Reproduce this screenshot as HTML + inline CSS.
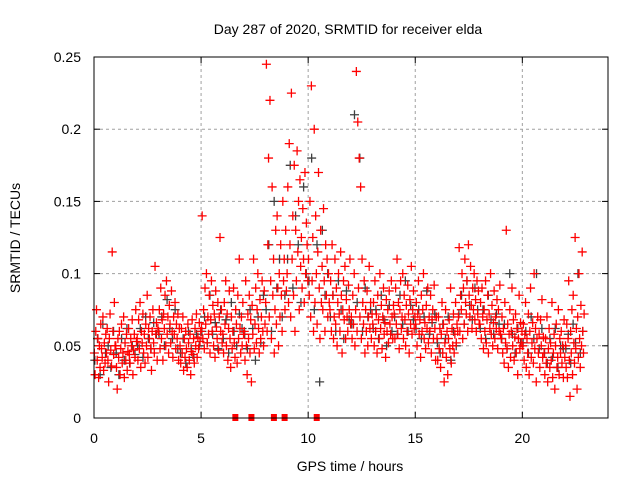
<!DOCTYPE html>
<html><head><meta charset="utf-8"><style>
body{margin:0;background:#fff}
svg text{font-family:"Liberation Sans",sans-serif;font-size:14px;fill:#000}
</style></head><body>
<svg id="chart" width="640" height="480">
<text x="348" y="34" text-anchor="middle">Day 287 of 2020, SRMTID for receiver elda</text>
<text x="350" y="471" text-anchor="middle">GPS time / hours</text>
<text transform="translate(20,238) rotate(-90)" text-anchor="middle">SRMTID / TECUs</text>
<g id="grid"></g>
<g id="ticks"></g>
<g id="grey"></g>
<g id="red"></g>
<g id="marks"></g>
<rect x="94" y="57" width="514" height="361" fill="none" stroke="#000" stroke-width="1"/>
</svg>
<script>
const xTicks=[0,5,10,15,20];
const yTicks=[0,0.05,0.1,0.15,0.2,0.25];
const yTickLabels=["0","0.05","0.1","0.15","0.2","0.25"];
const markerHours=[6.6,7.35,8.4,8.9,10.4];
const red=[
[45,30,60,75,40,55,28,50,35,65,48,42,70,33,52,38,58,45,62,40,25,55,72,47,36,115,60,44,80,50],
[50,35,20,55,42,60,30,48,65,38,45,70,28,52,40,58,33,46,62,44,38,55,50,68,30,47,58,42,75,53],
[55,40,68,48,80,35,60,52,72,45,58,38,65,50,85,42,62,55,70,48,33,60,75,52,45,105,58,66,40,62],
[60,75,48,90,55,68,40,72,62,85,50,95,58,70,45,78,65,52,88,60,42,70,58,80,48,65,55,72,40,62],
[50,38,62,45,70,33,55,42,60,48,35,65,52,40,58,30,46,68,44,55,38,62,50,72,42,56,48,66,53,60],
[62,140,55,75,48,90,65,100,52,70,58,85,45,68,95,60,78,50,72,42,88,63,55,80,47,70,125,60,75,52],
[58,45,80,65,95,50,72,40,62,88,55,35,70,48,60,90,52,42,75,65,38,85,55,110,62,45,70,50,80,58],
[60,40,95,50,30,72,55,85,45,68,25,78,58,110,48,65,90,52,75,100,62,45,82,55,70,95,60,50,88,65],
[80,245,60,120,180,70,220,95,55,160,85,110,45,75,130,65,140,90,50,100,70,120,85,60,150,95,110,75,130,88],
[100,160,80,190,120,70,225,110,140,85,175,60,130,95,185,115,150,75,165,105,125,90,145,110,80,170,100,135,120,95],
[110,85,150,70,230,95,125,60,200,80,140,100,65,115,170,90,55,130,80,105,75,145,95,60,120,85,110,70,100,80],
[75,95,60,120,85,55,70,110,65,90,50,80,100,72,60,115,85,45,75,95,68,105,55,82,70,60,92,75,110,65],
[70,55,85,65,100,50,75,240,60,205,90,180,70,160,55,110,80,65,95,45,75,60,88,50,70,105,62,80,55,72],
[65,80,50,95,60,72,45,85,68,55,100,62,78,48,70,90,58,66,42,82,60,75,52,88,65,58,95,70,55,78],
[72,55,90,65,110,58,80,48,75,95,62,70,100,55,85,68,50,78,60,92,72,45,82,65,105,58,75,88,62,70],
[65,80,50,72,95,58,68,42,85,60,75,100,55,66,48,78,62,90,52,70,60,85,45,68,75,55,92,62,40,70],
[55,40,70,48,62,35,58,80,45,65,25,52,75,42,60,30,55,68,48,90,38,62,50,72,45,58,80,52,65,60],
[70,118,60,85,75,100,55,90,65,110,80,72,95,60,120,85,70,105,78,62,90,75,100,68,82,60,95,72,88,65],
[65,80,55,90,70,48,75,60,95,52,68,85,45,72,62,100,58,78,50,66,88,55,70,62,82,48,75,60,92,58],
[55,70,45,62,38,80,52,130,48,65,35,58,75,42,60,90,50,68,40,56,72,45,62,30,55,85,48,66,52,60],
[50,65,40,58,80,35,55,45,72,30,60,90,42,52,66,38,100,48,62,25,55,70,45,58,35,68,50,82,42,56],
[45,30,55,38,70,25,48,62,35,52,40,80,28,45,58,20,50,65,35,42,75,30,55,45,60,38,50,28,68,42],
[50,35,65,28,55,95,40,15,60,45,75,30,85,52,38,125,48,62,20,70,42,100,55,35,78,50,115,60,45,72]
];
const grey=[
[40,55,30,65,45,50,35,60],[45,30,55,40,62,38,50,44],[50,62,42,70,55,48,66,58],
[58,70,50,82,62,55,75,48],[45,55,38,60,48,42,58,50],[60,70,52,85,58,66,48,75],
[55,68,45,80,60,50,72,62],[58,48,75,62,40,70,52,85],[75,120,60,150,90,110,70,85],
[110,175,90,140,120,80,160,100],[95,180,75,120,25,130,85,100],[70,85,60,95,75,55,88,68],
[65,210,80,180,60,90,70,75],[62,75,55,85,68,50,78,60],[70,58,85,65,95,60,78,68],
[62,75,55,70,88,58,66,72],[52,45,65,55,70,40,60,50],[72,85,65,95,78,68,90,75],
[62,75,55,85,68,58,72,65],[55,65,48,100,58,45,62,52],[52,60,45,70,55,100,48,62],
[45,38,55,42,62,35,50,48],[48,58,38,65,52,100,45,60]
];
const X0=94,X1=608,Y0=418,Y1=57,XMAX=24,YMAX=0.25;
const sx=h=>X0+(X1-X0)*h/XMAX;
const sy=v=>Y0-(Y0-Y1)*v/YMAX;
const NS="http://www.w3.org/2000/svg";
function mk(tag,parent,attrs){const e=document.createElementNS(NS,tag);for(const k in attrs)e.setAttribute(k,attrs[k]);parent.appendChild(e);return e;}
const grid=document.getElementById('grid'),ticks=document.getElementById('ticks');
xTicks.forEach(t=>{
  const x=sx(t);
  if(t>0){const g=mk('line',grid,{x1:x,x2:x,y1:Y1,y2:Y0,stroke:'#a0a0a0','stroke-dasharray':'3,3'});
  
  }
  mk('line',ticks,{x1:x,x2:x,y1:Y0,y2:Y0-6,stroke:'#000'});
  mk('line',ticks,{x1:x,x2:x,y1:Y1,y2:Y1+6,stroke:'#000'});
  const tx=mk('text',ticks,{x:x,y:Y0+25,'text-anchor':'middle'});tx.textContent=t;
  
  
});
yTicks.forEach((t,i)=>{
  const y=sy(t);
  if(t>0&&t<YMAX){const g=mk('line',grid,{x1:X0,x2:X1,y1:y,y2:y,stroke:'#a0a0a0','stroke-dasharray':'3,3'});
  
  }
  mk('line',ticks,{x1:X0,x2:X0+6,y1:y,y2:y,stroke:'#000'});
  mk('line',ticks,{x1:X1,x2:X1-6,y1:y,y2:y,stroke:'#000'});
  const tx=mk('text',ticks,{x:81,y:y+5,'text-anchor':'end'});tx.textContent=yTickLabels[i];
  
  
});
function plus(parent,h,v,col,nm){
  const x=sx(h),y=sy(v/1000);
  const p=mk('path',parent,{d:`M${x-4.5} ${y}h9M${x} ${y-4.5}v9`,stroke:col,'stroke-width':1.3,fill:'none'});
  
  
}
const gG=document.getElementById('grey'),gR=document.getElementById('red');
grey.forEach((row,h)=>{const span=h===22?0.9:1;row.forEach((v,i)=>plus(gG,h+(i+0.3)/row.length*span,v,'#404040','grey-point'));});
red.forEach((row,h)=>{const span=h===22?0.9:1;row.forEach((v,i)=>plus(gR,h+(i+0.5)/row.length*span,v,'#ff0000','red-point'));});
const gM=document.getElementById('marks');
markerHours.forEach(h=>{const r=mk('rect',gM,{x:sx(h)-3,y:Y0-4,width:6,height:7,fill:'#ff0000'});

});
</script>
</body></html>
